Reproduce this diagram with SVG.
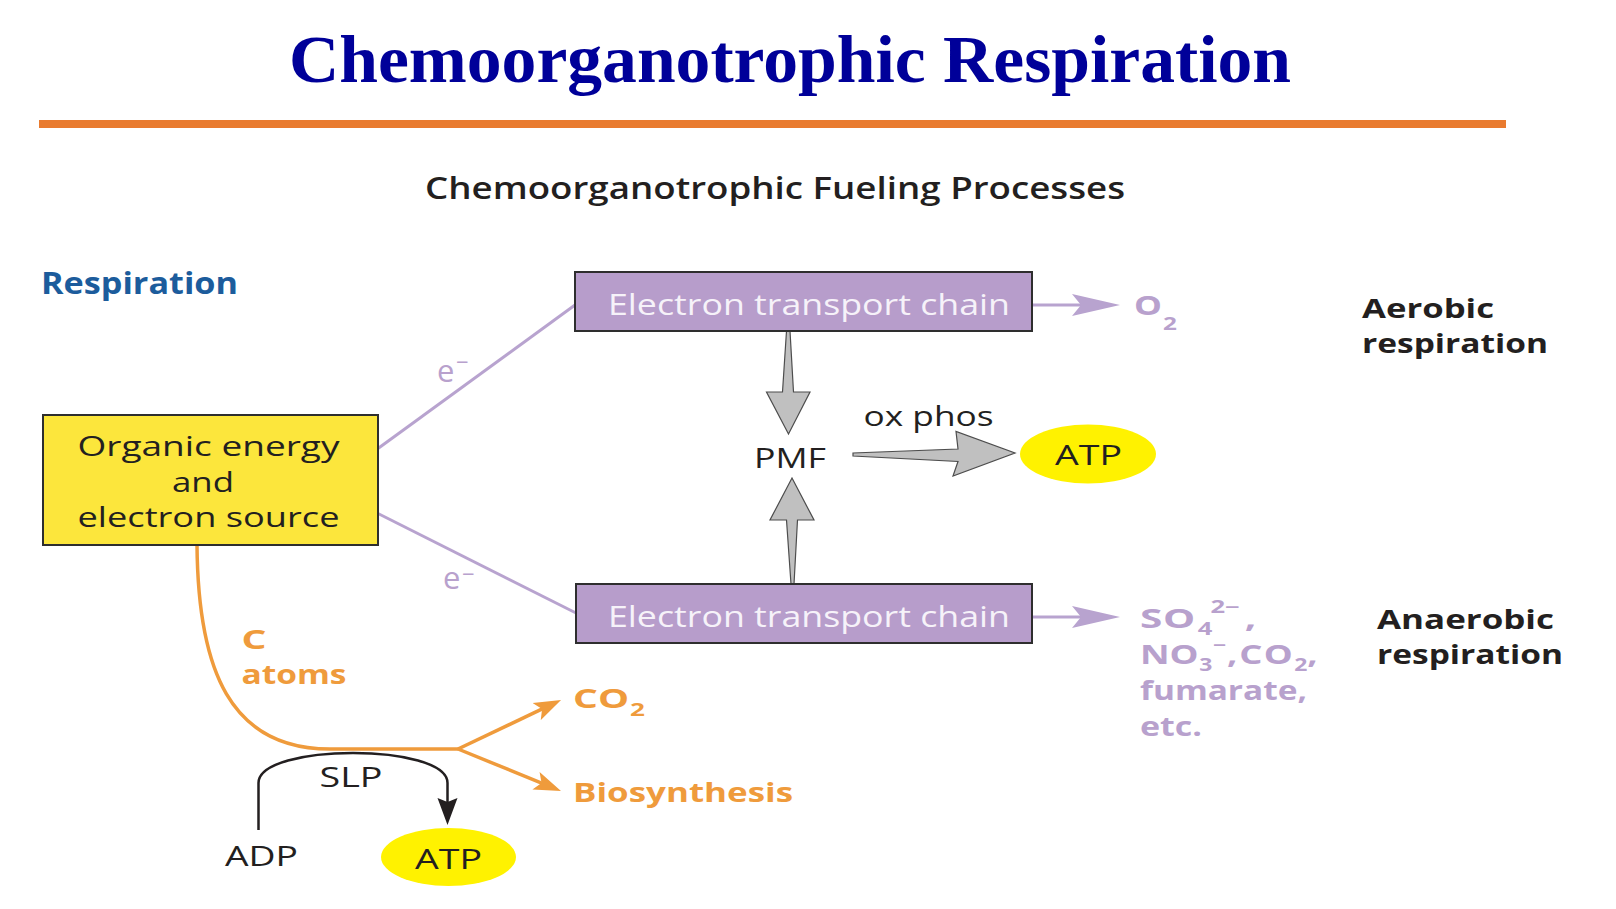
<svg xmlns="http://www.w3.org/2000/svg" width="1616" height="909" viewBox="0 0 1616 909">
<style>
.t{font-family:"Open Sans","DejaVu Sans",sans-serif;fill:#231F20}
.b{font-weight:700}
.lav{fill:#B8A1CD}
.org{fill:#EF9B3C}
.etct{fill:#F6F2F9;font-size:29px}
.box{stroke:#2E2E2E;stroke-width:2}
.lavline{stroke:#B8A3CF;stroke-width:3;fill:none}
.orgline{stroke:#EF9B3C;stroke-width:3.5;fill:none}
.gray{fill:#C0C0C0;stroke:#4D4D4D;stroke-width:1.2;stroke-linejoin:miter}
</style>
<defs>
<marker id="lavArrow" markerUnits="userSpaceOnUse" markerWidth="48" markerHeight="22" refX="28" refY="11" orient="auto">
<path d="M0,0 L48,11 L0,22 L9,11 z" fill="#B8A3CF"/>
</marker>
<marker id="orgArrow" markerUnits="userSpaceOnUse" markerWidth="28" markerHeight="20" refX="12" refY="10" orient="auto">
<path d="M0,0.5 L27,10 L0,19.5 L6,10 z" fill="#EF9B3C"/>
</marker>
<marker id="blkArrow" markerUnits="userSpaceOnUse" markerWidth="28" markerHeight="22" refX="12" refY="10" orient="auto">
<path d="M0,0 L27,10 L0,20 L4,10 z" fill="#231F20"/>
</marker>
</defs>
<rect width="1616" height="909" fill="#FFFFFF"/>

<g id="title">
<text x="289" y="82" font-family="'Liberation Serif','Times New Roman',serif" font-weight="700" font-size="67" fill="#000099" textLength="1002" lengthAdjust="spacingAndGlyphs">Chemoorganotrophic Respiration</text>
<rect x="39" y="120" width="1467" height="8" fill="#E97B2F"/>
</g>

<g id="subtitle">
<text class="t" x="425" y="199" font-size="30" font-weight="600" textLength="700" lengthAdjust="spacingAndGlyphs">Chemoorganotrophic Fueling Processes</text>
</g>

<g id="label-respiration">
<text class="t b" x="41" y="294" font-size="30" style="fill:#1C5C9C" textLength="197" lengthAdjust="spacingAndGlyphs">Respiration</text>
</g>

<g id="connectors">
<line class="lavline" x1="378" y1="448.5" x2="575" y2="305"/>
<line class="lavline" x1="378" y1="513.5" x2="576" y2="613"/>
<line class="lavline" x1="1032" y1="305" x2="1100" y2="305" marker-end="url(#lavArrow)"/>
<line class="lavline" x1="1032" y1="617" x2="1100" y2="617" marker-end="url(#lavArrow)"/>
<polygon class="gray" points="786.5,331 790,331 793.5,392 810,392 788.5,434 766.5,392 782.5,392"/>
<polygon class="gray" points="791,584 794,584 797.5,520 814,520 792,478 770,520 786.5,520"/>
<polygon class="gray" points="853,453 853,456 958,461.5 953,476 1015,453 956,431.5 958,449"/>
<path class="orgline" d="M197,545 C198,670 230,749 330,749 L458,749"/>
<line class="orgline" x1="458" y1="749" x2="547.5" y2="706.4" marker-end="url(#orgArrow)"/>
<line class="orgline" x1="458" y1="749" x2="547.1" y2="785.3" marker-end="url(#orgArrow)"/>
<path d="M258.5,830 V783 C258.5,743 447.5,743 447.5,783 V810" fill="none" stroke="#231F20" stroke-width="2.5" marker-end="url(#blkArrow)"/>
<text class="t lav" x="437" y="381.5" font-size="31" style="fill:#B8A1CD">e<tspan x="456" y="370" font-size="22">−</tspan></text>
<text class="t lav" x="443" y="589" font-size="31" style="fill:#B8A1CD">e<tspan x="462" y="582" font-size="22">−</tspan></text>
<text class="t b org" x="241.5" y="649" font-size="27" style="fill:#EF9B3C" textLength="25" lengthAdjust="spacingAndGlyphs">C</text>
<text class="t b org" x="241.5" y="684" font-size="27" style="fill:#EF9B3C" textLength="105" lengthAdjust="spacingAndGlyphs">atoms</text>
<text class="t" x="319.5" y="786.5" font-size="28" textLength="63" lengthAdjust="spacingAndGlyphs">SLP</text>
<text class="t" x="863.5" y="426" font-size="28" textLength="130" lengthAdjust="spacingAndGlyphs">ox phos</text>
</g>

<g id="node-source">
<rect class="box" x="43" y="415" width="335" height="130" fill="#FCE63C"/>
<text class="t" x="77.5" y="456" font-size="28" textLength="262" lengthAdjust="spacingAndGlyphs">Organic energy</text>
<text class="t" x="172" y="492" font-size="28" textLength="62" lengthAdjust="spacingAndGlyphs">and</text>
<text class="t" x="77.5" y="527" font-size="28" textLength="262" lengthAdjust="spacingAndGlyphs">electron source</text>
</g>

<g id="node-etc-aerobic">
<rect class="box" x="575" y="272" width="457" height="59" fill="#B79DCB"/>
<text class="t etct" x="608" y="315" textLength="402" lengthAdjust="spacingAndGlyphs" style="fill:#F6F2F9">Electron transport chain</text>
</g>

<g id="node-etc-anaerobic">
<rect class="box" x="576" y="584" width="456" height="59" fill="#B79DCB"/>
<text class="t etct" x="608" y="627" textLength="402" lengthAdjust="spacingAndGlyphs" style="fill:#F6F2F9">Electron transport chain</text>
</g>

<g id="node-o2">
<text class="t b lav" transform="translate(1134,0) scale(1.35,1)" x="0" y="315" font-size="26" style="fill:#B8A1CD">O<tspan x="21.5" y="330" font-size="18">2</tspan></text>
</g>

<g id="label-aerobic">
<text class="t b" x="1362" y="318" font-size="27" textLength="132" lengthAdjust="spacingAndGlyphs">Aerobic</text>
<text class="t b" x="1362" y="353" font-size="27" textLength="186" lengthAdjust="spacingAndGlyphs">respiration</text>
</g>

<g id="node-pmf">
<text class="t" x="754" y="468" font-size="28" textLength="72" lengthAdjust="spacingAndGlyphs">PMF</text>
</g>

<g id="node-atp-oxphos">
<ellipse cx="1088" cy="454" rx="68" ry="29.5" fill="#FFF200"/>
<text class="t" x="1055" y="465" font-size="28" textLength="67" lengthAdjust="spacingAndGlyphs">ATP</text>
</g>

<g id="node-anaerobic-acceptors">
<text class="t b lav" transform="translate(1140,0) scale(1.5,1)" font-size="27" style="fill:#B8A1CD"><tspan x="0" y="628.5" letter-spacing="0.5">SO</tspan><tspan x="38.5" y="635" font-size="17">4</tspan><tspan x="47" y="613" font-size="17">2−</tspan><tspan x="69.8" y="628.5">,</tspan></text>
<text class="t b lav" transform="translate(1140,0) scale(1.35,1)" font-size="27" style="fill:#B8A1CD"><tspan x="0" y="664">NO</tspan><tspan dx="0.5" y="671" font-size="17">3</tspan><tspan dx="0.5" y="651" font-size="17">−</tspan><tspan dx="0.5" y="664">,</tspan><tspan x="73.5" y="664" letter-spacing="1">CO</tspan><tspan y="671" font-size="17">2</tspan><tspan y="664">,</tspan></text>
<text class="t b lav" x="1140" y="700" font-size="27" style="fill:#B8A1CD" textLength="167" lengthAdjust="spacingAndGlyphs">fumarate,</text>
<text class="t b lav" x="1140" y="736" font-size="27" style="fill:#B8A1CD" textLength="62" lengthAdjust="spacingAndGlyphs">etc.</text>
</g>

<g id="label-anaerobic">
<text class="t b" x="1377" y="629" font-size="27" textLength="177" lengthAdjust="spacingAndGlyphs">Anaerobic</text>
<text class="t b" x="1377" y="664" font-size="27" textLength="186" lengthAdjust="spacingAndGlyphs">respiration</text>
</g>

<g id="node-co2">
<text class="t b org" transform="translate(573,0) scale(1.45,1)" x="0" y="708.5" font-size="27" style="fill:#EF9B3C">CO<tspan x="39.3" y="716.5" font-size="18">2</tspan></text>
</g>

<g id="node-biosynthesis">
<text class="t b org" x="573" y="802" font-size="27" style="fill:#EF9B3C" textLength="220" lengthAdjust="spacingAndGlyphs">Biosynthesis</text>
</g>

<g id="node-adp">
<text class="t" x="225" y="866" font-size="28" textLength="73" lengthAdjust="spacingAndGlyphs">ADP</text>
</g>

<g id="node-atp-slp">
<ellipse cx="448.5" cy="857" rx="67.5" ry="29" fill="#FFF200"/>
<text class="t" x="415" y="869" font-size="28" textLength="67" lengthAdjust="spacingAndGlyphs">ATP</text>
</g>
</svg>
